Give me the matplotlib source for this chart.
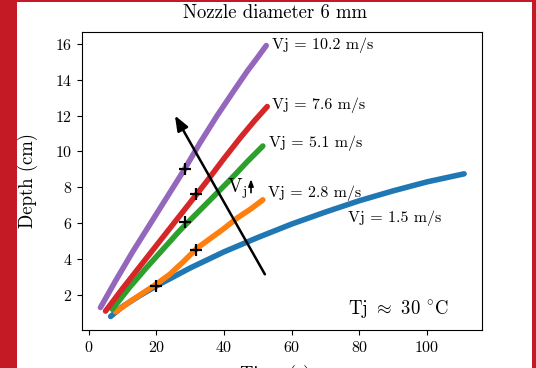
import matplotlib
matplotlib.use("Agg")
import matplotlib.pyplot as plt
from matplotlib.patches import Rectangle

plt.rcParams.update({"font.family": "cmr10", "mathtext.fontset": "cm",
                     "axes.formatter.use_mathtext": True, "axes.unicode_minus": False})

# jet velocity curves (time s, depth cm)
t_15 = [6.5, 10, 15, 20, 25, 30, 40, 50, 60, 70, 80, 90, 100, 111]
d_15 = [0.8, 1.35, 1.95, 2.5, 3.0, 3.5, 4.4, 5.2, 5.95, 6.62, 7.25, 7.8, 8.3, 8.75]
t_28 = [8, 12, 16, 20, 24, 28, 32, 36, 40, 44, 48, 51.5]
d_28 = [1.05, 1.6, 2.1, 2.6, 3.15, 3.85, 4.6, 5.15, 5.7, 6.3, 6.8, 7.3]
t_51 = [7, 12, 17, 22, 27, 32, 37, 42, 47, 51.5]
d_51 = [1.2, 2.4, 3.5, 4.55, 5.6, 6.55, 7.5, 8.45, 9.45, 10.3]
t_76 = [5, 10, 15, 20, 25, 30, 35, 40, 45, 49, 52.8]
d_76 = [1.1, 2.35, 3.55, 4.75, 5.95, 7.15, 8.35, 9.6, 10.8, 11.7, 12.5]
t_102 = [3.5, 8, 13, 18, 23, 28, 33, 38, 43, 47, 50, 52.5]
d_102 = [1.3, 2.8, 4.4, 5.9, 7.4, 8.9, 10.5, 12.0, 13.4, 14.5, 15.25, 15.9]

# black crosses
mark_t = [28.6, 31.6, 28.6, 31.6, 20.0]
mark_d = [9.0, 7.6, 6.05, 4.5, 2.5]

labels = ["Vj = 1.5 m/s", "Vj = 2.8 m/s", "Vj = 5.1 m/s", "Vj = 7.6 m/s", "Vj = 10.2 m/s"]
label_xy = [(76.6, 6.25), (52.9, 7.65), (53.4, 10.45), (54.1, 12.6), (54.1, 15.9)]

fig = plt.figure(figsize=(5.36, 3.68), dpi=100, facecolor="#c41a26")
bg = Rectangle((17 / 536, 0), 515 / 536, 366 / 368, transform=fig.transFigure,
               facecolor="white", edgecolor="none", zorder=-10)
fig.patches.append(bg)
ax = fig.add_axes([82.3 / 536, 1 - 330 / 368, 400 / 536, 298 / 368])

series = [(t_15, d_15, "C0"), (t_28, d_28, "C1"), (t_51, d_51, "C2"),
          (t_76, d_76, "C3"), (t_102, d_102, "C4")]
for t, d, c in series:
    ax.plot(t, d, color=c, lw=4, solid_capstyle="round", solid_joinstyle="round")

ax.plot(mark_t, mark_d, "k+", ms=9, mew=1.6, zorder=5)

for s, (x, y) in zip(labels, label_xy):
    ax.text(x, y, s, fontsize=11.5, va="center", ha="left")

ax.annotate("", xy=(25.5, 12.0), xytext=(52.1, 3.15),
            arrowprops=dict(arrowstyle="-|>,head_length=0.9,head_width=0.35", color="k",
                            lw=1.8, shrinkA=0, shrinkB=0))
ax.text(41.0, 7.9, r"$\mathrm{V_j}$", fontsize=14, va="center", ha="left")
ax.annotate("", xy=(48.0, 8.45), xytext=(48.0, 7.7),
            arrowprops=dict(arrowstyle="-|>,head_length=0.4,head_width=0.15", color="k",
                            lw=1.2, shrinkA=0, shrinkB=0))
ax.text(76.6, 1.2, r"Tj $\approx$ 30 $^{\circ}$C", fontsize=13.5, va="center", ha="left")

ax.set_xticks([0, 20, 40, 60, 80, 100])
ax.set_yticks([2, 4, 6, 8, 10, 12, 14, 16])
ax.tick_params(labelsize=11.5)
ax.set_ylabel("Depth (cm)", fontsize=13.5)
ax.yaxis.set_label_coords(-0.11, 0.5)
fig.text(275 / 536, 1 - 12.7 / 368, "Nozzle diameter 6 mm", fontsize=13.5, ha="center", va="center")
fig.text(275 / 536, 1 - 375 / 368, "Time (s)", fontsize=13.5, ha="center", va="center")

fig.savefig("out.png", dpi=100, facecolor=fig.get_facecolor())
